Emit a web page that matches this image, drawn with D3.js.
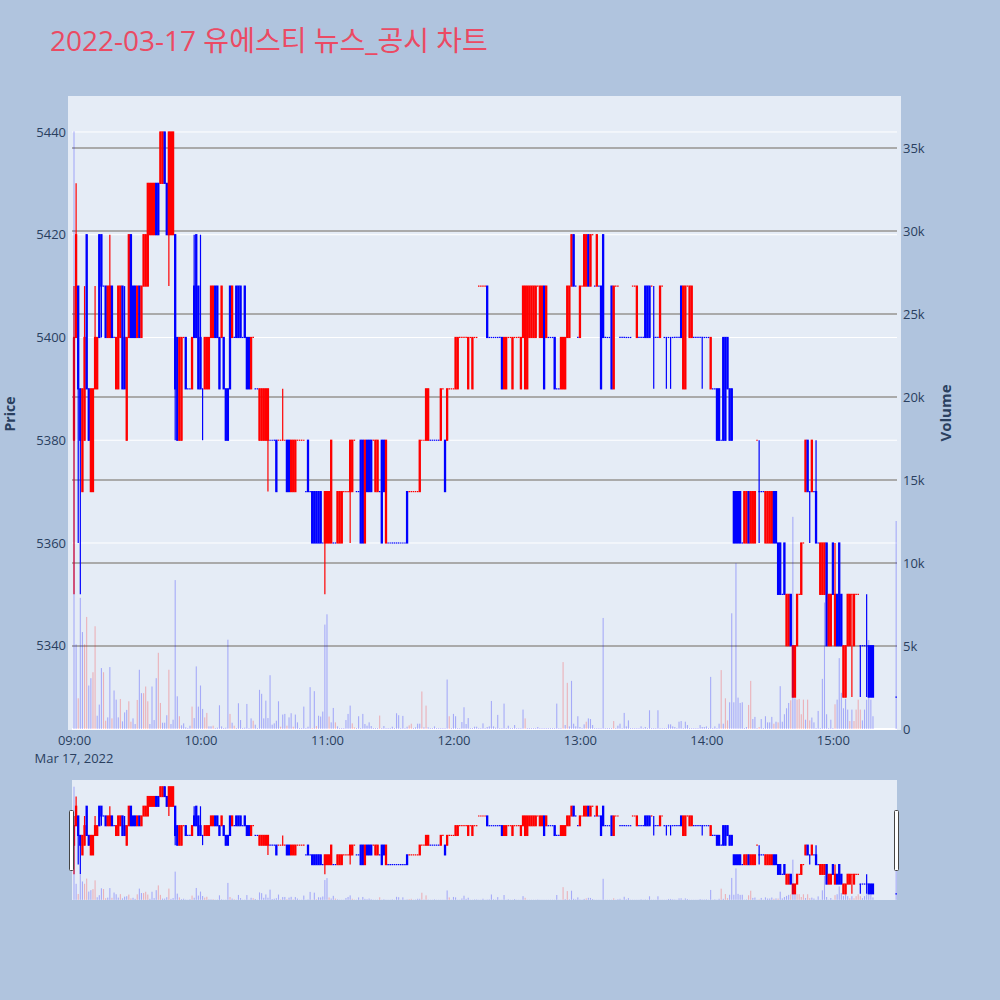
<!DOCTYPE html>
<html>
<head>
<meta charset="utf-8">
<script src="https://cdn.jsdelivr.net/npm/d3@7"></script>
<style>
  body { margin: 0; background: #b0c4de; }
  text { font-family: "Open Sans", "Noto Sans CJK KR", sans-serif; }
</style>
</head>
<body>
<svg id="chart" width="1000" height="1000"></svg>
<script>
// one candle per minute from 09:00, index = minutes after the open (380-389 = no trades, 390 = 15:30 close)
const opens = [
  5380,5400,5410,5390,5370,5380,5420,5390,5370,5370, 5390,5390,5420,5420,5410,5410,5400,5400,5410,5400,
  5390,5390,5400,5410,5400,5380,5400,5420,5410,5410, 5400,5410,5400,5410,5410,5410,5420,5420,5420,5430,
  5430,5430,5430,5440,5430,5420,5420,5420,5420,5400, 5380,5380,5400,5400,5390,5390,5390,5410,5420,5410,
  5400,5390,5390,5390,5390,5400,5400,5410,5410,5400, 5400,5400,5390,5390,5410,5400,5400,5410,5410,5410,
  5400,5410,5400,5400,5390,5400,5390,5390,5380,5380, 5380,5380,5380,5380,5380,5380,5380,5380,5380,5380,
  5380,5380,5380,5370,5370,5370,5380,5380,5380,5380, 5370,5380,5370,5370,5370,5370,5370,5370,5360,5360,
  5360,5360,5360,5360,5360,5360,5360,5360,5370,5370, 5370,5370,5370,5380,5370,5370,5380,5380,5360,5380,
  5380,5380,5380,5370,5370,5370,5380,5380,5360,5360, 5360,5360,5360,5360,5360,5360,5360,5360,5370,5370,
  5370,5370,5370,5370,5370,5380,5380,5380,5380,5380, 5380,5380,5380,5380,5380,5390,5380,5380,5390,5390,
  5390,5390,5390,5400,5400,5400,5400,5390,5400,5390, 5400,5400,5410,5410,5410,5410,5410,5400,5400,5400,
  5400,5400,5400,5400,5390,5390,5400,5400,5390,5400, 5400,5400,5390,5400,5390,5390,5400,5400,5400,5400,
  5410,5400,5400,5410,5400,5400,5400,5400,5400,5390, 5390,5390,5390,5390,5400,5400,5410,5420,5410,5400,
  5400,5410,5410,5410,5420,5410,5420,5410,5410,5410, 5410,5420,5400,5400,5400,5410,5390,5410,5410,5400,
  5400,5400,5400,5400,5400,5410,5410,5400,5400,5400, 5400,5410,5410,5410,5410,5400,5400,5400,5400,5410,
  5400,5400,5400,5400,5400,5400,5400,5400,5410,5390, 5390,5410,5400,5400,5400,5400,5400,5400,5400,5400,
  5400,5400,5390,5390,5390,5390,5390,5380,5400,5400, 5400,5390,5390,5370,5370,5370,5370,5360,5360,5360,
  5370,5360,5360,5360,5380,5370,5370,5370,5360,5360, 5360,5360,5370,5370,5360,5360,5350,5360,5340,5340,
  5350,5330,5330,5340,5350,5350,5360,5370,5380,5370, 5370,5370,5370,5360,5350,5350,5350,5360,5340,5340,
  5360,5340,5350,5360,5350,5330,5330,5340,5340,5350, 5340,5350,5350,5340,5340,5340,5340,5340,5340,5340,
  null,null,null,null,null,null,null,null,null,null, 5330
];
const highs = [
  5410,5430,5410,5390,5390,5410,5420,5390,5390,5390, 5410,5400,5420,5420,5410,5410,5410,5420,5410,5400,
  5400,5410,5410,5410,5410,5400,5420,5420,5410,5410, 5410,5410,5410,5420,5420,5430,5430,5430,5430,5430,
  5430,5440,5440,5440,5430,5440,5440,5440,5420,5400, 5400,5400,5400,5400,5390,5390,5400,5420,5420,5410,
  5420,5390,5400,5400,5400,5410,5410,5410,5410,5400, 5410,5400,5390,5390,5410,5410,5400,5410,5410,5410,
  5400,5410,5400,5400,5400,5400,5390,5390,5390,5390, 5390,5390,5390,5380,5380,5380,5380,5380,5380,5390,
  5380,5380,5380,5380,5380,5380,5380,5380,5380,5380, 5370,5380,5370,5370,5370,5370,5370,5370,5360,5370,
  5370,5370,5380,5360,5360,5370,5370,5370,5370,5370, 5370,5380,5380,5380,5370,5370,5380,5380,5380,5380,
  5380,5380,5380,5380,5380,5370,5380,5380,5380,5360, 5360,5360,5360,5360,5360,5360,5360,5360,5370,5370,
  5370,5370,5370,5370,5380,5380,5380,5390,5390,5380, 5380,5380,5380,5380,5390,5390,5380,5390,5390,5390,
  5390,5400,5400,5400,5400,5400,5400,5400,5400,5400, 5400,5400,5410,5410,5410,5410,5410,5400,5400,5400,
  5400,5400,5400,5400,5400,5400,5400,5400,5400,5400, 5400,5400,5400,5410,5410,5410,5410,5410,5410,5410,
  5410,5410,5410,5410,5410,5400,5400,5400,5400,5390, 5390,5400,5400,5400,5410,5410,5420,5420,5410,5400,
  5410,5410,5420,5420,5420,5420,5420,5410,5420,5410, 5410,5420,5400,5400,5400,5410,5410,5410,5410,5400,
  5400,5400,5400,5400,5400,5410,5410,5410,5400,5400, 5400,5410,5410,5410,5410,5410,5400,5400,5410,5410,
  5400,5400,5400,5400,5400,5400,5400,5400,5410,5410, 5410,5410,5410,5410,5400,5400,5400,5400,5400,5400,
  5400,5400,5400,5390,5390,5390,5390,5380,5400,5400, 5400,5390,5390,5370,5370,5370,5370,5360,5370,5370,
  5370,5370,5370,5370,5380,5380,5370,5370,5370,5370, 5370,5370,5370,5370,5360,5360,5350,5360,5350,5350,
  5350,5340,5340,5350,5350,5360,5360,5380,5380,5370, 5380,5370,5380,5360,5360,5360,5360,5360,5350,5350,
  5360,5360,5350,5360,5350,5340,5340,5350,5350,5350, 5350,5350,5350,5340,5340,5340,5350,5340,5340,5340,
  null,null,null,null,null,null,null,null,null,null, 5330
];
const lows = [
  5350,5400,5360,5350,5370,5380,5390,5380,5370,5370, 5390,5390,5400,5400,5410,5400,5400,5400,5400,5400,
  5390,5390,5400,5390,5390,5380,5400,5400,5400,5400, 5400,5400,5400,5410,5410,5410,5420,5420,5420,5420,
  5420,5430,5430,5430,5420,5410,5420,5420,5380,5380, 5380,5380,5400,5390,5390,5390,5390,5400,5400,5390,
  5390,5380,5390,5390,5390,5400,5400,5400,5400,5390, 5400,5390,5380,5380,5390,5400,5400,5400,5400,5400,
  5400,5400,5390,5390,5390,5400,5390,5390,5380,5380, 5380,5380,5370,5380,5380,5380,5370,5380,5380,5380,
  5380,5370,5370,5370,5370,5370,5380,5380,5380,5380, 5370,5370,5370,5360,5360,5360,5360,5360,5360,5350,
  5360,5360,5360,5360,5360,5360,5360,5360,5370,5370, 5370,5360,5370,5380,5370,5370,5360,5360,5360,5370,
  5370,5370,5380,5370,5370,5370,5360,5370,5360,5360, 5360,5360,5360,5360,5360,5360,5360,5360,5360,5370,
  5370,5370,5370,5370,5370,5380,5380,5380,5380,5380, 5380,5380,5380,5380,5380,5390,5370,5380,5390,5390,
  5390,5390,5390,5400,5400,5400,5400,5390,5400,5390, 5400,5400,5410,5410,5410,5410,5400,5400,5400,5400,
  5400,5400,5400,5390,5390,5390,5400,5400,5390,5400, 5400,5400,5390,5400,5390,5390,5400,5400,5400,5400,
  5410,5400,5400,5390,5400,5400,5400,5400,5390,5390, 5390,5390,5390,5390,5400,5400,5410,5410,5410,5400,
  5400,5410,5410,5410,5410,5410,5420,5410,5410,5410, 5390,5400,5400,5400,5400,5390,5390,5410,5410,5400,
  5400,5400,5400,5400,5400,5410,5410,5400,5400,5400, 5400,5400,5400,5400,5410,5390,5400,5400,5400,5410,
  5400,5390,5400,5390,5400,5400,5400,5400,5400,5390, 5390,5410,5400,5400,5400,5400,5400,5400,5390,5400,
  5400,5400,5390,5390,5390,5380,5380,5380,5380,5380, 5390,5380,5380,5360,5360,5360,5360,5360,5360,5360,
  5360,5360,5360,5360,5380,5360,5370,5370,5360,5360, 5360,5360,5360,5360,5350,5350,5350,5350,5340,5340,
  5340,5330,5330,5340,5350,5350,5360,5370,5370,5360, 5370,5370,5360,5360,5350,5350,5350,5340,5340,5340,
  5350,5340,5340,5340,5340,5330,5330,5340,5340,5330, 5340,5350,5350,5330,5340,5340,5330,5330,5330,5330,
  null,null,null,null,null,null,null,null,null,null, 5330
];
const closes = [
  5400,5420,5390,5380,5390,5400,5390,5380,5390,5390, 5400,5400,5400,5410,5410,5400,5410,5410,5400,5400,
  5400,5410,5410,5390,5390,5400,5420,5400,5400,5400, 5410,5400,5410,5420,5420,5430,5430,5430,5430,5420,
  5420,5440,5440,5430,5420,5440,5440,5440,5390,5380, 5400,5400,5400,5390,5390,5390,5400,5400,5400,5390,
  5390,5390,5400,5400,5400,5410,5410,5400,5400,5390, 5410,5390,5380,5380,5390,5410,5400,5400,5400,5400,
  5400,5400,5390,5390,5400,5400,5390,5390,5390,5390, 5390,5390,5390,5380,5380,5380,5370,5380,5380,5380,
  5380,5370,5370,5380,5380,5380,5380,5380,5380,5380, 5370,5370,5370,5360,5360,5360,5360,5360,5360,5370,
  5370,5370,5380,5360,5360,5370,5370,5370,5370,5370, 5370,5380,5380,5380,5370,5370,5360,5360,5380,5370,
  5370,5370,5380,5380,5380,5370,5360,5370,5380,5360, 5360,5360,5360,5360,5360,5360,5360,5360,5360,5370,
  5370,5370,5370,5370,5380,5380,5380,5390,5390,5380, 5380,5380,5380,5380,5390,5390,5370,5390,5390,5390,
  5390,5400,5400,5400,5400,5400,5400,5400,5400,5400, 5400,5400,5410,5410,5410,5410,5400,5400,5400,5400,
  5400,5400,5400,5390,5400,5400,5400,5400,5400,5400, 5400,5400,5400,5410,5410,5410,5410,5410,5410,5410,
  5410,5410,5410,5390,5410,5400,5400,5400,5390,5390, 5390,5400,5400,5400,5410,5410,5420,5410,5410,5400,
  5410,5410,5420,5420,5410,5420,5420,5410,5420,5410, 5390,5400,5400,5400,5400,5390,5410,5410,5410,5400,
  5400,5400,5400,5400,5400,5410,5410,5410,5400,5400, 5400,5400,5400,5400,5410,5400,5400,5400,5410,5410,
  5400,5400,5400,5400,5400,5400,5400,5400,5400,5410, 5410,5410,5410,5410,5400,5400,5400,5400,5400,5400,
  5400,5400,5400,5390,5390,5380,5380,5380,5380,5380, 5390,5380,5380,5360,5360,5360,5360,5360,5370,5370,
  5360,5370,5370,5370,5380,5370,5370,5370,5370,5370, 5370,5370,5360,5360,5350,5350,5350,5350,5350,5350,
  5340,5340,5340,5350,5350,5360,5360,5380,5370,5370, 5380,5370,5360,5360,5360,5360,5360,5340,5350,5350,
  5350,5350,5340,5340,5340,5340,5340,5350,5350,5350, 5350,5350,5350,5340,5340,5340,5340,5330,5330,5330,
  null,null,null,null,null,null,null,null,null,null, 5330
];
const volumes = [
  36000,5100,1850,7900,5840,5100,6750,2620,3060,3420, 6190,800,1470,3670,3420,500,700,3730,640,2320,
  1770,700,1810,460,1000,1150,1670,440,640,300, 1750,3570,2160,2160,2560,1670,300,2560,540,3060,
  4590,1570,380,380,830,3570,300,560,8970,1970, 770,220,340,100,60,200,1350,660,3770,1350,
  2620,1210,700,970,160,160,200,60,80,1430, 160,60,80,5380,910,380,200,60,1550,540,
  60,80,1510,60,640,500,260,60,2360,2120, 640,1710,660,3240,260,340,500,1670,140,870,
  910,200,700,950,140,870,400,60,60,1350, 60,140,2520,60,2280,180,800,750,1050,6290,
  6910,750,400,1270,400,160,60,60,60,540, 910,1410,340,100,60,770,60,910,300,200,
  400,180,60,60,60,810,60,180,60,60, 60,140,60,950,830,60,790,60,140,220,
  320,60,100,320,320,2260,100,1410,100,60, 60,160,60,60,60,60,60,2980,770,60,
  910,770,60,60,420,1310,300,660,60,60, 140,140,60,60,340,60,120,160,1690,160,
  80,850,60,60,1530,60,200,60,60,240, 60,60,60,1170,640,60,60,60,60,60,
  120,60,60,60,60,60,60,60,60,1530, 60,60,4030,240,2780,160,2900,320,160,770,
  120,60,280,440,640,600,240,60,60,60, 60,6690,60,60,60,60,480,60,200,320,
  60,970,160,520,60,60,60,60,60,160, 60,120,60,1130,60,60,60,1130,60,60,
  60,60,280,280,160,120,60,440,480,60, 440,240,60,60,60,60,60,240,120,120,
  160,60,3140,60,160,60,320,3550,320,1850, 520,1610,6970,1610,9990,1890,1570,1610,60,120,
  1450,2900,600,730,60,120,600,60,770,400, 400,730,320,440,400,2580,440,890,1250,1570,
  1730,12780,1850,1770,1810,890,1770,560,1770,520, 690,400,60,1090,60,3020,7620,890,60,560,
  60,1490,1770,4270,2180,1250,1810,1170,480,1170, 480,1170,1770,1170,520,1170,1770,5360,1770,770,
  null,null,null,null,null,null,null,null,null,null, 12530
];
// minutes whose volume bar is drawn red
const redVolumeMinutes = [2,5,6,9,10,14,15,18,22,26,27,30,33,34,35,40,41,45,50,56,62,63,66,74,76,85,98,101,104,
  113,115,121,124,132,133,145,159,160,165,167,178,214,232,234,243,256,307,309,310,320,321,325,332,334,340,
  343,344,345,346,348,349,361,368,370,371,372,373];

const priceTicks = [5340, 5360, 5380, 5400, 5420, 5440];
const volumeTicks = [0, 5000, 10000, 15000, 20000, 25000, 30000, 35000];
const title = "2022-03-17 유에스티 뉴스_공시 차트";

const svg = d3.select("#chart");
const start = new Date(2022, 2, 17, 9, 0);
const atMinute = (m) => new Date(start.getTime() + m * 60000);

const UP = "#ff0000", DOWN = "#0000ff";
const redSet = new Set(redVolumeMinutes);

// direction: close vs open, ties use the previous close
let prevC = null, prevUp = true;
const isUp = opens.map((o, i) => {
  if (o == null) return null;
  const c = closes[i];
  let up;
  if (c > o) up = true;
  else if (c < o) up = false;
  else if (prevC != null && c !== prevC) up = c > prevC;
  else up = prevUp;
  prevC = c; prevUp = up;
  return up;
});

const candles = opens.map((o, i) => ({
  t: atMinute(i), o: o, h: highs[i], l: lows[i], c: closes[i], v: volumes[i],
  up: isUp[i], redVol: redSet.has(i)
})).filter(d => d.o != null);

const x = d3.scaleTime().domain([atMinute(-0.95), atMinute(390.4)]).range([72, 897]);
const y = d3.scaleLinear().domain([5323.6, 5447]).range([730, 96]);
const yVol = d3.scaleLinear().domain([-60, 38130]).range([730, 96]);

svg.append("rect").attr("width", 1000).attr("height", 1000).attr("fill", "#b0c4de");

// main plot
svg.append("rect").attr("x", 68).attr("y", 96).attr("width", 833).attr("height", 634).attr("fill", "#e5ecf6");
svg.append("defs").append("clipPath").attr("id", "clipMain")
  .append("rect").attr("x", 68).attr("y", 96).attr("width", 833).attr("height", 634);

const grid = svg.append("g");
grid.selectAll(".pg").data(priceTicks).join("line")
  .attr("x1", 72).attr("x2", 897)
  .attr("y1", d => y(d)).attr("y2", d => y(d))
  .attr("stroke", "#ffffff").attr("stroke-width", 1);
grid.selectAll(".vg").data(volumeTicks.filter(d => d > 0)).join("line")
  .attr("x1", 72).attr("x2", 897)
  .attr("y1", d => yVol(d)).attr("y2", d => yVol(d))
  .attr("stroke", "#aaaaaa").attr("stroke-width", 2);
grid.append("line").attr("x1", 72).attr("x2", 897)
  .attr("y1", yVol(0)).attr("y2", yVol(0))
  .attr("stroke", "#ffffff").attr("stroke-width", 2);

function drawCandles(g, xs, ys, ysVol) {
  const bw = 1.1, sw = 1.2;
  const c = g.append("g");
  candles.forEach(d => {
    const col = d.up ? UP : DOWN;
    const cx = xs(d.t);
    if (d.h > d.l) {
      c.append("line").attr("x1", cx).attr("x2", cx)
        .attr("y1", ys(d.h)).attr("y2", ys(d.l))
        .attr("stroke", col).attr("stroke-width", sw);
    }
    if (d.o !== d.c) {
      const top = ys(Math.max(d.o, d.c)), bot = ys(Math.min(d.o, d.c));
      c.append("rect").attr("x", cx - bw / 2).attr("y", top)
        .attr("width", bw).attr("height", bot - top)
        .attr("fill", col).attr("stroke", col).attr("stroke-width", sw);
    } else {
      c.append("line").attr("x1", cx - 0.75).attr("x2", cx + 0.75)
        .attr("y1", ys(d.c)).attr("y2", ys(d.c))
        .attr("stroke", col).attr("stroke-width", sw);
    }
  });
  g.append("g").selectAll("rect").data(candles).join("rect")
    .attr("x", d => xs(d.t) - 0.55)
    .attr("y", d => ysVol(d.v))
    .attr("width", 1.1)
    .attr("height", d => ysVol(0) - ysVol(d.v))
    .attr("fill", d => d.redVol ? "rgba(255,0,0,0.25)" : "rgba(0,0,255,0.28)");
}

drawCandles(svg.append("g").attr("clip-path", "url(#clipMain)"), x, y, yVol);

// axes
const axisColor = "#2a3f5f";
svg.append("g").attr("transform", "translate(66,0)")
  .call(d3.axisLeft(y).tickValues(priceTicks).tickSize(0).tickPadding(0).tickFormat(d3.format("d")))
  .call(g => g.select(".domain").remove())
  .call(g => g.selectAll("text").attr("fill", axisColor).style("font-size", "13px")
    .style("font-family", "'Open Sans', sans-serif"));

svg.append("g").attr("transform", "translate(903,0)")
  .call(d3.axisRight(yVol).tickValues(volumeTicks).tickSize(0).tickPadding(0)
    .tickFormat(d => d === 0 ? "0" : (d / 1000) + "k"))
  .call(g => g.select(".domain").remove())
  .call(g => g.selectAll("text").attr("fill", axisColor).style("font-size", "13px")
    .style("font-family", "'Open Sans', sans-serif"));

const hourTicks = d3.range(0, 7).map(h => atMinute(h * 60));
svg.append("g").attr("transform", "translate(0,736)")
  .call(d3.axisBottom(x).tickValues(hourTicks).tickSize(0).tickPadding(0)
    .tickFormat(d3.timeFormat("%H:%M")))
  .call(g => g.select(".domain").remove())
  .call(g => g.selectAll("text").attr("fill", axisColor).style("font-size", "13px")
    .style("font-family", "'Open Sans', sans-serif"));

svg.append("text").attr("x", x(hourTicks[0])).attr("y", 763)
  .attr("text-anchor", "middle").attr("fill", axisColor).style("font-size", "13px")
  .text("Mar 17, 2022");

svg.append("text").attr("transform", "translate(15,414) rotate(-90)")
  .attr("text-anchor", "middle").attr("fill", axisColor)
  .style("font-size", "14px").style("font-weight", "bold").text("Price");
svg.append("text").attr("transform", "translate(951,413) rotate(-90)")
  .attr("text-anchor", "middle").attr("fill", axisColor)
  .style("font-size", "15px").style("font-weight", "bold").text("Volume");

svg.append("text").attr("x", 50).attr("y", 51)
  .attr("fill", "#eb4a63").style("font-size", "28px").text(title);

// range slider
const ys2 = d3.scaleLinear().domain([5323.6, 5447]).range([900, 780]);
const ysVol2 = d3.scaleLinear().domain([-60, 38130]).range([900, 780]);
svg.append("rect").attr("x", 72).attr("y", 780).attr("width", 825).attr("height", 120).attr("fill", "#e5ecf6");
svg.select("defs").append("clipPath").attr("id", "clipSlider")
  .append("rect").attr("x", 72).attr("y", 780).attr("width", 825).attr("height", 120);
drawCandles(svg.append("g").attr("clip-path", "url(#clipSlider)"), x, ys2, ysVol2);

[72, 897].forEach(hx => {
  svg.append("rect").attr("x", hx - 2.5).attr("y", 810.5).attr("width", 4).attr("height", 60)
    .attr("rx", 1).attr("fill", "#ffffff").attr("stroke", "#444444").attr("stroke-width", 1);
});
</script>
</body>
</html>
